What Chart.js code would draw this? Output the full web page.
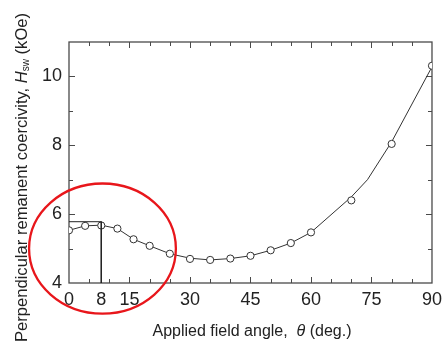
<!DOCTYPE html>
<html>
<head>
<meta charset="utf-8">
<script src="https://cdn.jsdelivr.net/npm/chart.js@4/dist/chart.umd.min.js"></script>
<style>
  html, body { margin: 0; padding: 0; background: #fff; }
  #wrap { width: 448px; height: 349px; }
</style>
</head>
<body>
<div id="wrap"><canvas id="chart" width="448" height="349"></canvas></div>
<script>
// measured switching field vs applied field angle
const angles = [0, 4, 8, 12, 16, 20, 25, 30, 35, 40, 45, 50, 55, 60, 70, 80, 90];
const hsw = [5.53, 5.66, 5.67, 5.58, 5.27, 5.08, 4.85, 4.70, 4.67, 4.71, 4.79, 4.95, 5.16, 5.47, 6.40, 8.04, 10.31];

// calculated curve
const fitAngles = [0, 4, 8, 12, 16, 20, 25, 30, 35, 40, 45, 50, 55, 60, 70, 74, 80, 90];
const fitHsw = [5.53, 5.66, 5.68, 5.58, 5.27, 5.08, 4.85, 4.72, 4.67, 4.71, 4.79, 4.95, 5.16, 5.47, 6.50, 7.00, 8.10, 10.28];

// marker for the 8 deg peak
const peakX = [0, 8, 8];
const peakY = [5.78, 5.78, 4];

// tick labels and tick marks
const xLabels = [0, 8, 15, 30, 45, 60, 75, 90];
const xMajor = [15, 30, 45, 60, 75];
const xMinor = [5, 10, 20, 25, 35, 40, 50, 55, 65, 70, 80, 85];
const yLabels = [4, 6, 8, 10];
const yMajor = [6, 8, 10];
const yMinor = [5, 7, 9];

const FONT = "'Liberation Sans', Arial, sans-serif";

function pts(xs, ys) {
  return xs.map(function (x, i) { return { x: x, y: ys[i] }; });
}

// box, inward ticks on all four sides
const framePlugin = {
  id: "frame",
  beforeDatasetsDraw: function (chart) {
    var ctx = chart.ctx;
    var a = chart.chartArea;
    var xs = chart.scales.x, ys = chart.scales.y;
    ctx.save();
    ctx.strokeStyle = "#4a4a4a";
    ctx.lineWidth = 1.3;
    ctx.strokeRect(a.left, a.top, a.right - a.left, a.bottom - a.top);
    ctx.lineWidth = 1;
    function xt(v, len) {
      var p = Math.round(xs.getPixelForValue(v)) + 0.5;
      ctx.beginPath();
      ctx.moveTo(p, a.bottom); ctx.lineTo(p, a.bottom - len);
      ctx.moveTo(p, a.top); ctx.lineTo(p, a.top + len);
      ctx.stroke();
    }
    function yt(v, len) {
      var p = Math.round(ys.getPixelForValue(v)) + 0.5;
      ctx.beginPath();
      ctx.moveTo(a.left, p); ctx.lineTo(a.left + len, p);
      ctx.moveTo(a.right, p); ctx.lineTo(a.right - len, p);
      ctx.stroke();
    }
    xMajor.forEach(function (v) { xt(v, 6); });
    xMinor.forEach(function (v) { xt(v, 4); });
    yMajor.forEach(function (v) { yt(v, 6); });
    yMinor.forEach(function (v) { yt(v, 4); });
    ctx.restore();
  },
  afterDraw: function (chart) {
    var ctx = chart.ctx;
    var xs = chart.scales.x, ys = chart.scales.y;

    // red ellipse around low-angle region
    var cx = xs.getPixelForValue(8.3), cy = ys.getPixelForValue(5.0);
    var rx = xs.getPixelForValue(8.3 + 18.2) - cx;
    var ry = cy - ys.getPixelForValue(5.0 + 1.89);
    ctx.save();
    ctx.strokeStyle = "#e8161b";
    ctx.lineWidth = 2.3;
    ctx.beginPath();
    ctx.ellipse(cx, cy, rx, ry, 0, 0, Math.PI * 2);
    ctx.stroke();
    ctx.restore();

    // axis titles with italic symbols
    drawRich(ctx, [
      { t: "Applied field angle,  ", f: "16px " + FONT },
      { t: "\u03b8", f: "italic 16px " + FONT },
      { t: " (deg.)", f: "16px " + FONT }
    ], 252, 332, 0);
    drawRich(ctx, [
      { t: "Perpendicular remanent coercivity, ", f: "16.6px " + FONT },
      { t: "H", f: "italic 16.6px " + FONT },
      { t: "sw", f: "10px " + FONT, dy: 4 },
      { t: " (kOe)", f: "16.6px " + FONT }
    ], 22, 177.5, -Math.PI / 2);
  }
};

function drawRich(ctx, parts, x, y, rot) {
  ctx.save();
  ctx.translate(x, y);
  ctx.rotate(rot);
  ctx.fillStyle = "#222";
  ctx.textBaseline = "middle";
  var total = 0;
  parts.forEach(function (p) { ctx.font = p.f; total += ctx.measureText(p.t).width; });
  var cur = -total / 2;
  parts.forEach(function (p) {
    ctx.font = p.f;
    ctx.fillText(p.t, cur, p.dy || 0);
    cur += ctx.measureText(p.t).width;
  });
  ctx.restore();
}

const ctx = document.getElementById("chart").getContext("2d");
const chart = new Chart(ctx, {
  type: "line",
  data: {
    datasets: [
      {
        label: "peak",
        data: pts(peakX, peakY),
        borderColor: "#222",
        borderWidth: 1,
        pointRadius: 0,
        tension: 0
      },
      {
        label: "measured",
        data: pts(angles, hsw),
        showLine: false,
        pointRadius: 3.6,
        pointBackgroundColor: "#fff",
        pointBorderColor: "#333",
        pointBorderWidth: 1
      },
      {
        label: "calc",
        data: pts(fitAngles, fitHsw),
        borderColor: "#333",
        borderWidth: 1,
        pointRadius: 0,
        tension: 0
      }
    ]
  },
  options: {
    responsive: false,
    animation: false,
    layout: { padding: { top: 42, right: 16, left: 0, bottom: 0 } },
    plugins: {
      legend: { display: false },
      tooltip: { enabled: false }
    },
    scales: {
      x: {
        type: "linear",
        min: 0,
        max: 90,
        grid: { display: false, drawTicks: false, tickLength: 0 },
        border: { display: false },
        afterBuildTicks: function (s) { s.ticks = xLabels.map(function (v) { return { value: v }; }); },
        afterFit: function (s) { s.height = 66; },
        ticks: {
          autoSkip: false,
          maxRotation: 0,
          padding: 6,
          color: "#222",
          font: { family: FONT, size: 18 }
        }
      },
      y: {
        min: 4,
        max: 11,
        grid: { display: false, drawTicks: false, tickLength: 0 },
        border: { display: false },
        afterBuildTicks: function (s) { s.ticks = yLabels.map(function (v) { return { value: v }; }); },
        afterFit: function (s) { s.width = 69; },
        ticks: {
          padding: 7,
          color: "#222",
          font: { family: FONT, size: 18 }
        }
      }
    }
  },
  plugins: [framePlugin]
});
</script>
</body>
</html>
